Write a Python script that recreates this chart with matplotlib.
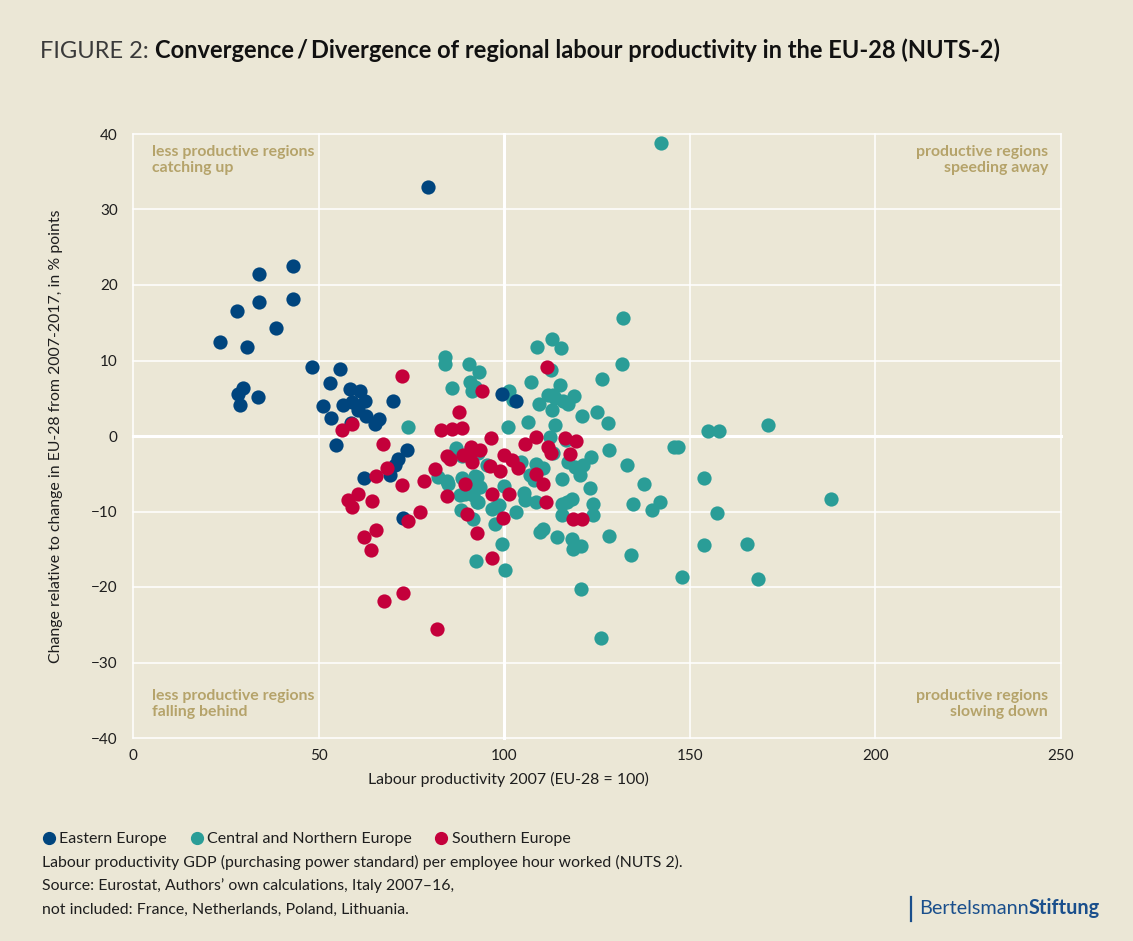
import matplotlib.pyplot as plt
from matplotlib.lines import Line2D

plt.rcParams["font.family"] = ["Lato", "DejaVu Sans"]

BG = "#ebe7d6"
BLUE = "#00457e"
TEAL = "#2a9d97"
RED = "#c4003b"
TAN = "#b5a36a"
INK = "#1e1e1e"

# Eastern Europe (labour productivity 2007, change vs EU-28)
east_x = [43.1, 33.9, 34.0, 43.0, 28.1, 38.6, 23.4, 30.8, 48.1, 29.6, 28.4, 33.6, 28.7,
          79.5, 55.8, 53.1, 58.5, 61.2, 51.1, 56.7, 58.9, 60.7, 62.5, 60.7, 53.3, 62.8,
          65.2, 66.4, 58.7, 70.0, 54.6, 73.7, 71.5, 70.6, 69.2, 62.3, 72.8, 99.4, 103.3]
east_y = [22.5, 21.5, 17.7, 18.2, 16.6, 14.3, 12.5, 11.8, 9.1, 6.4, 5.5, 5.2, 4.1,
          33.0, 8.9, 7.0, 6.2, 5.9, 4.0, 4.1, 4.5, 4.0, 4.6, 3.4, 2.4, 2.7,
          1.6, 2.2, 1.7, 4.7, -1.2, -1.9, -3.0, -3.8, -5.2, -5.5, -10.9, 5.5, 4.7]

# Central and Northern Europe
central_x = [142.2, 132.1, 113.0, 108.8, 115.4, 131.7, 126.4, 112.6, 107.2, 115.1,
             90.5, 93.3, 84.1, 84.1, 85.9, 90.8, 92.1, 91.3, 101.3, 102.3,
             109.3, 111.9, 113.2, 113.7, 115.9, 117.3, 118.8, 112.8, 121.0, 125.1,
             127.9, 106.5, 113.8, 101.0, 154.8, 157.9, 171.1, 112.3, 116.7, 145.8,
             146.8, 128.3, 86.9, 88.5, 113.2, 123.5, 133.2, 117.3, 119.1, 121.1,
             120.4, 104.4, 108.7, 110.5, 107.0, 108.0, 115.7, 95.5, 82.3, 84.5,
             84.9, 92.1, 92.8, 93.6, 91.4, 99.9, 88.1, 89.4, 91.7, 93.0,
             92.6, 105.4, 105.6, 108.7, 123.1, 115.6, 116.9, 118.2, 124.0, 123.8,
             115.7, 96.6, 97.9, 98.7, 103.2, 91.7, 97.6, 134.8, 139.7, 142.0,
             137.7, 153.8, 157.4, 109.6, 110.5, 114.1, 118.3, 118.4, 120.6, 128.2,
             134.1, 99.5, 92.3, 100.3, 120.6, 126.2, 148.0, 168.3, 153.7, 165.3,
             188.1, 74.0, 88.4, 91.0, 93.0, 88.5]
central_y = [38.8, 15.6, 12.8, 11.8, 11.7, 9.5, 7.5, 8.8, 7.1, 6.8,
             9.6, 8.5, 10.4, 9.6, 6.3, 7.2, 6.5, 6.0, 6.0, 4.8,
             4.2, 5.4, 5.4, 5.0, 4.6, 4.3, 5.3, 3.5, 2.6, 3.2,
             1.7, 1.8, 1.5, 1.2, 0.6, 0.6, 1.5, -0.1, -0.5, -1.5,
             -1.5, -1.9, -1.6, -2.7, -2.3, -2.8, -3.8, -3.4, -4.1, -3.9,
             -5.2, -3.5, -3.7, -4.3, -5.1, -5.8, -5.7, -3.8, -5.4, -6.0,
             -6.3, -5.3, -5.4, -6.7, -6.3, -6.6, -7.8, -7.7, -7.8, -8.7,
             -8.8, -7.6, -8.5, -8.8, -6.9, -9.0, -8.7, -8.3, -9.0, -10.5,
             -10.4, -9.7, -9.4, -9.2, -10.1, -11.0, -11.7, -9.0, -9.8, -8.8,
             -6.4, -5.6, -10.2, -12.7, -12.3, -13.4, -13.6, -15.0, -14.6, -13.3,
             -15.7, -14.3, -16.5, -17.7, -20.2, -26.7, -18.7, -18.9, -14.4, -14.3,
             -8.3, 1.2, -9.8, -1.6, -2.2, -5.6]

# Southern Europe
south_x = [56.2, 58.9, 72.6, 111.4, 93.9, 87.9, 82.9, 85.9, 88.5, 67.4,
           96.4, 68.5, 65.5, 72.5, 78.5, 81.3, 60.7, 58.0, 58.9, 64.3,
           77.3, 74.2, 65.5, 62.2, 64.1, 67.5, 72.8, 81.8, 84.5, 89.4,
           89.9, 92.8, 96.8, 96.6, 101.3, 99.8, 100.0, 96.2, 98.9, 84.5,
           85.4, 91.1, 90.8, 93.6, 91.2, 89.0, 102.0, 103.8, 108.6, 105.6,
           111.9, 112.5, 108.7, 110.5, 111.3, 116.4, 119.3, 117.7, 118.4, 121.0]
south_y = [0.8, 1.6, 8.0, 9.1, 5.9, 3.2, 0.8, 0.9, 1.0, -1.0,
           -0.2, -4.3, -5.3, -6.5, -5.9, -4.4, -7.7, -8.5, -9.4, -8.6,
           -10.1, -11.2, -12.5, -13.4, -15.1, -21.8, -20.8, -25.5, -8.0, -6.4,
           -10.3, -12.9, -16.2, -7.7, -7.7, -10.8, -2.5, -4.0, -4.6, -2.7,
           -3.0, -1.4, -2.4, -1.8, -3.4, -2.5, -3.2, -4.2, -0.1, -1.0,
           -1.5, -2.3, -5.0, -6.4, -8.8, -0.2, -0.7, -2.4, -11.0, -11.0]

x_ticks = [0, 50, 100, 150, 200, 250]
y_ticks = [-40, -30, -20, -10, 0, 10, 20, 30, 40]

legend_labels = ["Eastern Europe", "Central and Northern Europe", "Southern Europe"]

W, H = 1133, 941
fig = plt.figure(figsize=(W / 100, H / 100), dpi=100, facecolor=BG)
ax = fig.add_axes([133 / W, 1 - 738 / H, (1061 - 133) / W, (738 - 134) / H])
ax.set_facecolor(BG)

ax.set_xlim(0, 250)
ax.set_ylim(-40, 40)
ax.set_xticks(x_ticks)
ax.set_yticks(y_ticks)
for s in ax.spines.values():
    s.set_visible(False)
ax.tick_params(length=0, labelsize=11, colors=INK)
ax.tick_params(axis="y", pad=11)
ax.tick_params(axis="x", pad=8)

# white grid, heavier reference lines at y=0 and x=100
for xv in x_ticks:
    ax.axvline(xv, color="white", lw=2.2 if xv == 100 else 1.1, zorder=1, clip_on=False)
for yv in y_ticks:
    ax.axhline(yv, color="white", lw=2.2 if yv == 0 else 1.1, zorder=1, clip_on=False)

dot = dict(s=105, linewidths=0, zorder=3)
ax.scatter(central_x, central_y, color=TEAL, **dot)
ax.scatter(east_x, east_y, color=BLUE, **dot)
ax.scatter(south_x, south_y, color=RED, **dot)

# quadrant captions
qfont = dict(color=TAN, fontsize=11.4, fontweight="bold", linespacing=1.2, transform=ax.transAxes)
ax.text(0.0205, 0.982, "less productive regions\ncatching up", ha="left", va="top", **qfont)
ax.text(0.986, 0.982, "productive regions\nspeeding away", ha="right", va="top", **qfont, multialignment="right")
ax.text(0.0205, 0.031, "less productive regions\nfalling behind", ha="left", va="bottom", **qfont)
ax.text(0.986, 0.031, "productive regions\nslowing down", ha="right", va="bottom", **qfont, multialignment="right")

fig.text(56 / W, 1 - 436 / H, "Change relative to change in EU-28 from 2007-2017, in % points",
         rotation=90, ha="center", va="center", fontsize=11.4, color=INK)
fig.text(508 / W, 1 - 779 / H, "Labour productivity 2007 (EU-28 = 100)",
         ha="center", va="center", fontsize=11.4, color=INK)

# title
t1 = fig.text(40 / W, 1 - 52 / H, "FIGURE 2: ", fontsize=17, fontweight="normal",
              color="#3a3a3a", ha="left", va="center")
ax.annotate("Convergence\u2009/\u2009Divergence of regional labour productivity in the EU-28 (NUTS-2)",
            xy=(1, 0), xycoords=t1, ha="left", va="bottom", fontsize=17,
            fontweight="bold", color="#111111", annotation_clip=False)

# legend
handles = [Line2D([], [], marker="o", ls="", color=c, markersize=8.5) for c in (BLUE, TEAL, RED)]
fig.legend(handles, legend_labels, loc="center left", bbox_to_anchor=(33 / W, 1 - 839 / H),
           ncol=3, frameon=False, handletextpad=0.05, columnspacing=1.25, handlelength=1.2,
           fontsize=11.5, labelcolor=INK, borderaxespad=0)

notes = [
    "Labour productivity GDP (purchasing power standard) per employee hour worked (NUTS 2).",
    "Source: Eurostat, Authors\u2019 own calculations, Italy 2007\u201316,",
    "not included: France, Netherlands, Poland, Lithuania.",
]
for i, line in enumerate(notes):
    fig.text(42 / W, 1 - (862 + 24 * i) / H, line, fontsize=11.45, color=INK, ha="left", va="center")

# logo
fig.add_artist(Line2D([911 / W, 911 / W], [1 - 897 / H, 1 - 921 / H], color="#1a4f8c", lw=1.6,
                      transform=fig.transFigure))
b1 = fig.text(919 / W, 1 - 909 / H, "Bertelsmann", fontsize=14.3, color="#1a4f8c",
              ha="left", va="center")
ax.annotate("Stiftung", xy=(1, 0), xycoords=b1, ha="left", va="bottom", fontsize=14.3,
            fontweight="bold", color="#1a4f8c", annotation_clip=False)

fig.savefig("out.png", dpi=100, facecolor=BG)
